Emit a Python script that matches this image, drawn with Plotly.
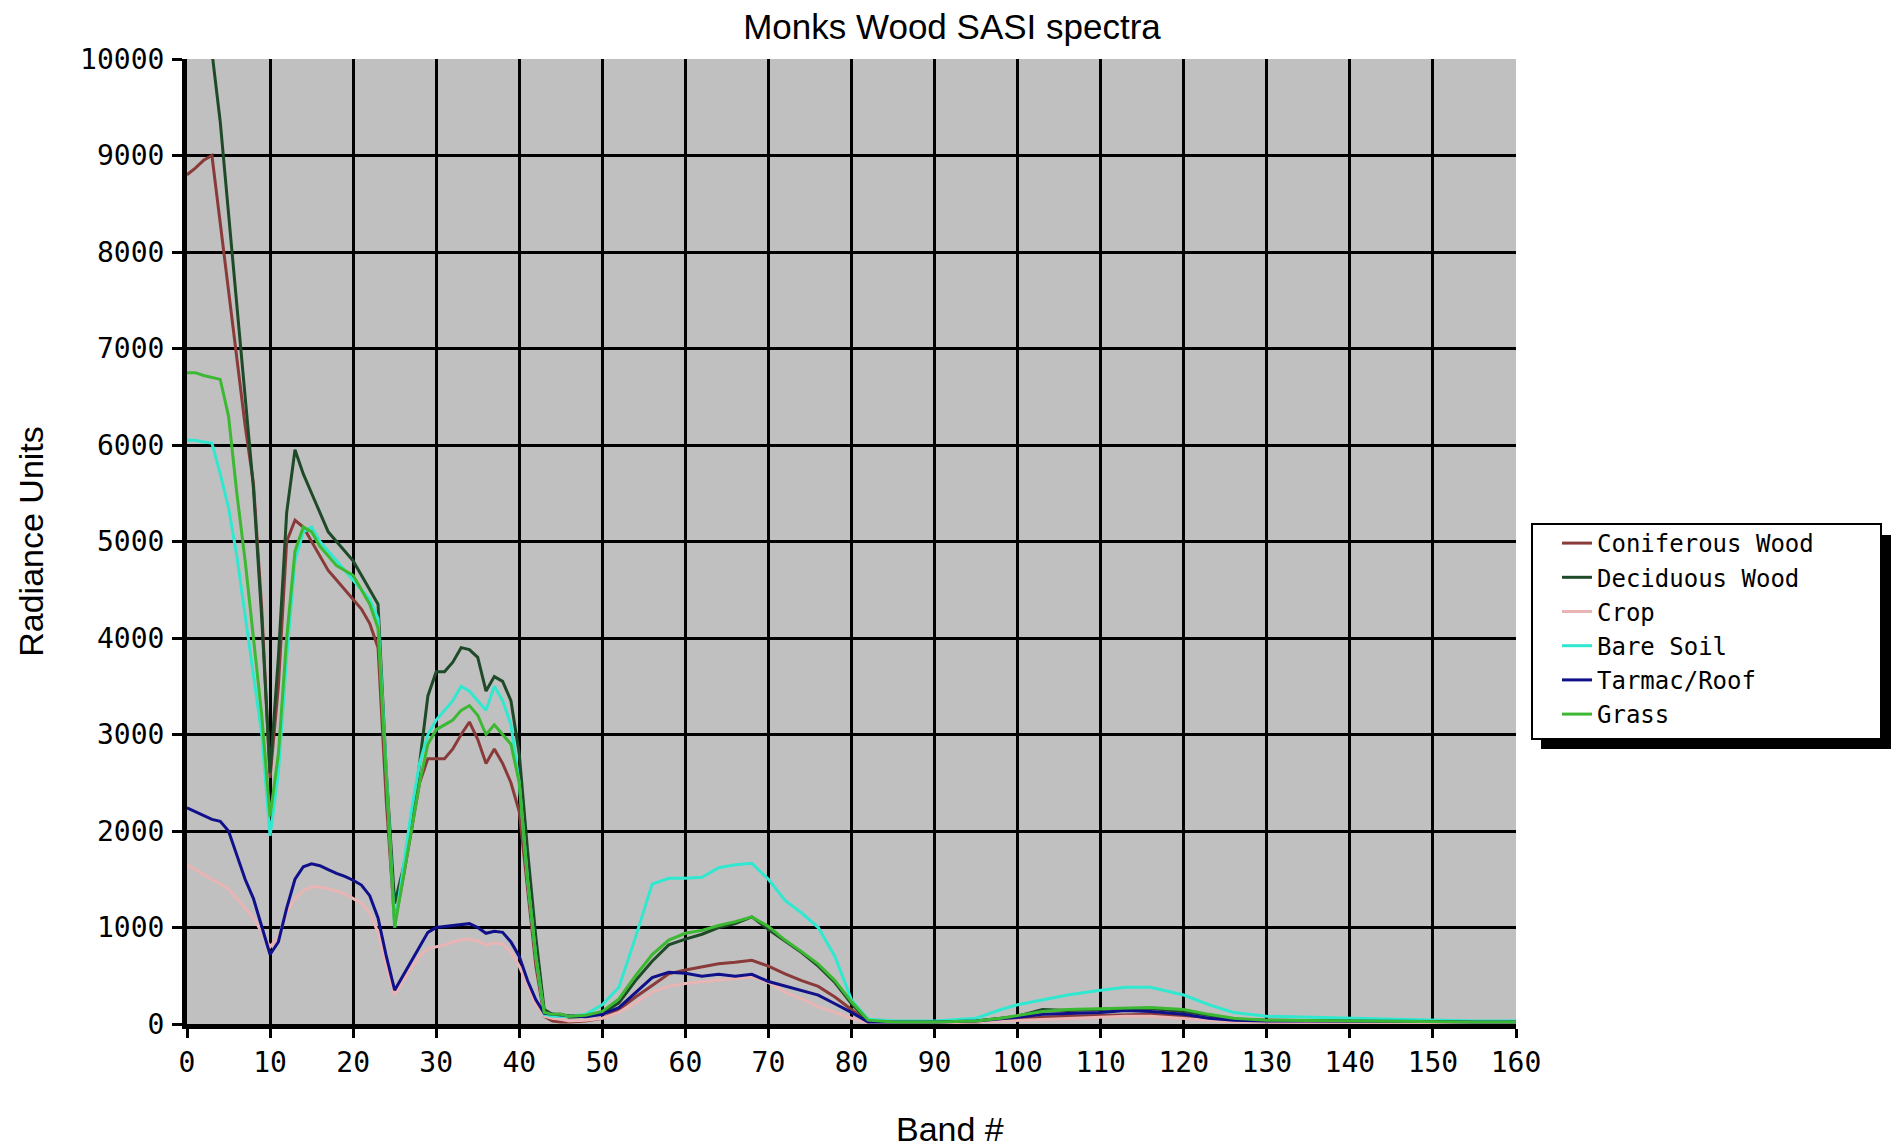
import plotly.graph_objects as go

# ---------------- data ----------------
bands = list(range(0, 46)) + list(range(46, 83, 2)) + [
    85, 90, 95, 98, 100, 103, 106, 110, 113, 116, 120, 123, 126, 130, 135, 140, 145, 150, 155, 160]

coniferous = [
    8800, 8870, 8950, 9000, 8300, 7600, 6900, 6200, 5600, 4300, 2550, 3500, 5000, 5220, 5150, 5000,
    4850, 4700, 4600, 4500, 4400, 4300, 4150, 3900, 2300, 1050, 1500, 2000, 2500, 2750, 2750, 2750,
    2850, 3000, 3130, 2950, 2700, 2850, 2700, 2500, 2200, 1400, 600, 80, 30, 20,
    20, 30, 60, 150, 280, 400, 520, 560, 590, 625, 640, 660, 600, 520, 450, 390, 280, 150, 20,
    10, 10, 20, 40, 50, 70, 80, 90, 100, 100, 80, 50, 30, 20, 20, 20, 15, 10, 10, 10]

deciduous = [
    11000, 11000, 10800, 10100, 9350, 8400, 7450, 6500, 5550, 4200, 2600, 3800, 5300, 5950, 5700, 5500,
    5300, 5100, 5000, 4900, 4800, 4650, 4500, 4350, 2600, 1250, 1600, 2000, 2700, 3400, 3650, 3650,
    3750, 3900, 3880, 3800, 3450, 3600, 3550, 3350, 2800, 1800, 900, 150, 100, 100,
    70, 80, 110, 220, 450, 650, 820, 880, 930, 1000, 1040, 1110, 980, 860, 740, 600, 430, 210, 30,
    20, 20, 30, 60, 80, 150, 140, 150, 160, 160, 130, 90, 50, 40, 35, 30, 25, 20, 20, 20]

crop = [
    1650, 1600, 1550, 1500, 1450, 1400, 1300, 1200, 1100, 950, 800, 900, 1150, 1300, 1380, 1420,
    1420, 1400, 1380, 1350, 1300, 1250, 1150, 950, 600, 300, 450, 580, 700, 780, 800, 820,
    850, 870, 880, 860, 820, 840, 830, 750, 600, 400, 200, 80, 60, 50,
    30, 40, 60, 120, 220, 330, 390, 420, 440, 455, 470, 490, 430, 330, 260, 180, 120, 60, 10,
    10, 10, 20, 30, 40, 50, 60, 70, 80, 80, 60, 40, 20, 15, 15, 15, 10, 10, 10, 10]

bare_soil = [
    6050, 6050, 6030, 6020, 5700, 5350, 4850, 4250, 3650, 3000, 1950, 2600, 3800, 4800, 5100, 5150,
    5000, 4900, 4800, 4700, 4600, 4500, 4400, 4200, 2600, 1000, 1600, 2200, 2700, 3000, 3150, 3250,
    3350, 3500, 3450, 3350, 3250, 3500, 3350, 3100, 2500, 1500, 700, 100, 80, 80,
    80, 100, 200, 380, 900, 1450, 1510, 1510, 1520, 1620, 1650, 1665, 1500, 1280, 1150, 1000, 700, 250, 50,
    30, 30, 60, 150, 200, 250, 300, 350, 380, 380, 300, 200, 120, 80, 70, 60, 50, 40, 30, 30]

tarmac = [
    2240, 2200, 2160, 2120, 2100, 2000, 1750, 1500, 1300, 1000, 720, 850, 1200, 1500, 1630, 1660,
    1640, 1600, 1560, 1530, 1490, 1440, 1330, 1100, 700, 350, 500, 650, 800, 950, 1000, 1010,
    1020, 1030, 1040, 1000, 940, 960, 950, 850, 700, 450, 250, 110, 100, 95,
    85, 75, 100, 170, 330, 480, 535, 525, 495, 515, 495, 515, 440, 395, 350, 300, 210, 120, 20,
    20, 20, 30, 50, 70, 100, 110, 120, 140, 130, 100, 60, 40, 30, 30, 30, 30, 25, 20, 20]

grass = [
    6750, 6750, 6720, 6700, 6680, 6300, 5500, 4800, 4000, 3200, 2150, 2800, 4000, 4900, 5150, 5100,
    4950, 4850, 4750, 4700, 4650, 4500, 4350, 4100, 2500, 1000, 1500, 2000, 2500, 2900, 3050, 3100,
    3150, 3250, 3300, 3200, 3000, 3100, 3000, 2900, 2500, 1500, 700, 120, 100, 100,
    80, 90, 130, 260, 500, 720, 870, 940, 970, 1020, 1060, 1110, 1010, 870, 750, 620, 450, 230, 40,
    20, 20, 30, 60, 90, 130, 150, 160, 170, 170, 150, 100, 60, 40, 35, 30, 25, 20, 20, 20]

series_names = ["Coniferous Wood", "Deciduous Wood", "Crop", "Bare Soil", "Tarmac/Roof", "Grass"]
series_values = [coniferous, deciduous, crop, bare_soil, tarmac, grass]
series_colors = ["#8B3A3A", "#1E4A28", "#E8B4B4", "#30E8D0", "#10108A", "#3CB832"]

x_ticks = list(range(0, 161, 10))
y_ticks = list(range(0, 10001, 1000))

# ---------------- figure ----------------
fig = go.Figure()
for name, vals, col in zip(series_names, series_values, series_colors):
    fig.add_trace(go.Scatter(x=bands, y=vals, mode="lines", name=name,
                             line=dict(color=col, width=3)))

W, H = 1894, 1147
L, R, T, B = 187, 1516, 59, 1024
pw, ph = R - L, B - T

def px(xp):
    return (xp - L) / pw

def py(yp):
    return (B - yp) / ph

mono = "DejaVu Sans Mono"

fig.update_layout(
    width=W, height=H,
    margin=dict(l=L, r=W - R, t=T, b=H - B, autoexpand=False),
    paper_bgcolor="white",
    plot_bgcolor="#C0C0C0",
    title=dict(text="Monks Wood SASI spectra", xref="container", x=952 / W, xanchor="center",
               yref="container", y=1 - 27 / H, yanchor="middle",
               font=dict(family="Liberation Sans", size=35, color="black")),
    showlegend=True,
    legend=dict(x=px(1557), xanchor="left", y=py(521), yanchor="top",
                bgcolor="rgba(0,0,0,0)", borderwidth=0,
                font=dict(family=mono, size=24, color="black"),
                tracegroupgap=0),
    shapes=[
        dict(type="rect", xref="paper", yref="paper",
             x0=px(1541), x1=px(1891), y0=py(749), y1=py(535),
             fillcolor="black", line=dict(width=0), layer="above"),
        dict(type="rect", xref="paper", yref="paper",
             x0=px(1532), x1=px(1881), y0=py(739), y1=py(524),
             fillcolor="white", line=dict(color="black", width=2), layer="above"),
    ],
    annotations=[
        dict(text="Band #", xref="paper", yref="paper", x=px(950), y=py(1129),
             xanchor="center", yanchor="middle", showarrow=False,
             font=dict(family="Liberation Sans", size=34, color="black")),
    ],
)

fig.update_xaxes(
    range=[0, 160], tickvals=x_ticks, ticktext=[str(v) for v in x_ticks],
    showgrid=True, gridcolor="black", gridwidth=3,
    showline=True, linecolor="black", linewidth=5,
    ticks="outside", ticklen=9, tickwidth=3, tickcolor="black",
    tickfont=dict(family=mono, size=28, color="black"),
    ticklabelstandoff=0,
    zeroline=False,
)
fig.update_yaxes(
    range=[0, 10000], tickvals=y_ticks, ticktext=[str(v) for v in y_ticks],
    showgrid=True, gridcolor="black", gridwidth=3,
    showline=True, linecolor="black", linewidth=5,
    ticks="outside", ticklen=10, tickwidth=3, tickcolor="black",
    tickfont=dict(family=mono, size=28, color="black"),
    ticklabelstandoff=2,
    zeroline=False,
    title=dict(text="Radiance Units", standoff=28,
               font=dict(family="Liberation Sans", size=34, color="black")),
)

fig.write_html("out.html",
               config={"displayModeBar": False},
               post_script="document.body.style.margin='0px';document.body.style.padding='0px';")
